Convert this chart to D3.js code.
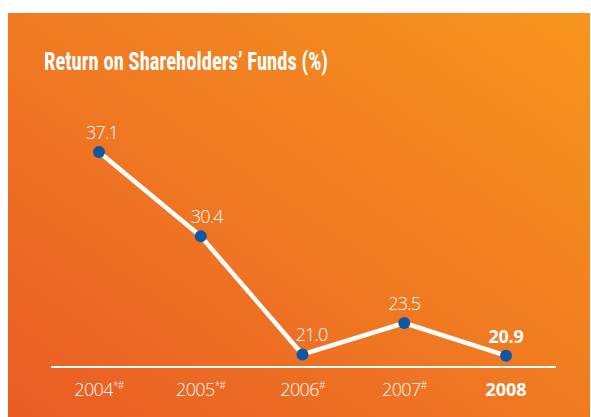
<!DOCTYPE html>
<html><head><meta charset="utf-8">
<script src="https://cdn.jsdelivr.net/npm/d3@7"></script>
<style>html,body{margin:0;padding:0;background:#fff;}svg{display:block;}</style>
</head><body>
<script>
const years = ["2004", "2005", "2006", "2007", "2008"];
const marks = ["*#", "*#", "#", "#", ""];
const values = [37.1, 30.4, 21.0, 23.5, 20.9];
const valueLabels = ["37.1", "30.4", "21.0", "23.5", "20.9"];
const title = "Return on Shareholders\u2019 Funds (%)";

const W = 591, H = 417;
const labelDx = [3, 6, 9, 0, 0];
const svg = d3.select("body").append("svg").attr("width", W).attr("height", H);
const defs = svg.append("defs");
const grad = defs.append("linearGradient").attr("id", "bg")
  .attr("x1", "0%").attr("y1", "100%").attr("x2", "100%").attr("y2", "0%");
grad.append("stop").attr("offset", "0%").attr("stop-color", "#E95C25");
grad.append("stop").attr("offset", "50%").attr("stop-color", "#F07A22");
grad.append("stop").attr("offset", "100%").attr("stop-color", "#F7951D");
svg.append("rect").attr("x", 8).attr("y", 13).attr("width", 582).attr("height", 404).attr("fill", "url(#bg)");

const cond = "'Liberation Sans Narrow','Roboto Condensed','Open Sans',sans-serif";
svg.append("text").attr("x", 44).attr("y", 70).attr("fill", "#fff")
  .attr("font-family", cond).attr("font-weight", 700).attr("font-size", 26.5)
  .attr("textLength", 284).attr("lengthAdjust", "spacingAndGlyphs").text(title);

const x = d3.scalePoint().domain(years).range([99, 506]);
const y = d3.scaleLinear().domain([20, 37.1]).range([367, 152]);

svg.append("line").attr("x1", 51).attr("x2", 556).attr("y1", 367).attr("y2", 367)
  .attr("stroke", "#fff").attr("stroke-width", 2.2);

const axis = d3.axisBottom(x).tickSize(0).tickFormat("");
const ag = svg.append("g").attr("transform", "translate(0,367)").call(axis);
ag.select(".domain").remove();

const lab = svg.append("g");
years.forEach((yr, i) => {
  const t = lab.append("text").attr("x", x(yr)).attr("y", 396).attr("text-anchor", "middle")
    .attr("fill", "#fff").attr("font-family", "'Open Sans',sans-serif")
    .attr("font-size", 18).attr("font-weight", i === 4 ? 700 : 300)
    .attr("letter-spacing", i === 4 ? 0 : -0.6);
  t.append("tspan").text(yr);
  if (marks[i]) t.append("tspan").attr("font-size", 10).attr("dy", -7).text(marks[i]);
});

const line = d3.line().x((d, i) => x(years[i])).y(d => y(d));
svg.append("path").datum(values).attr("d", line).attr("fill", "none")
  .attr("stroke", "#fff").attr("stroke-width", 4.5).attr("stroke-linejoin", "round");

svg.selectAll("circle.pt").data(values).enter().append("circle").attr("class", "pt")
  .attr("cx", (d, i) => x(years[i])).attr("cy", d => y(d)).attr("r", 6).attr("fill", "#0B58A4");

svg.selectAll("text.val").data(values).enter().append("text").attr("class", "val")
  .attr("x", (d, i) => x(years[i]) + labelDx[i]).attr("y", d => y(d) - 13)
  .attr("text-anchor", "middle").attr("fill", "#fff")
  .attr("font-family", "'Open Sans',sans-serif").attr("font-size", 18)
  .attr("font-weight", (d, i) => i === 4 ? 700 : 300)
  .attr("letter-spacing", (d, i) => i === 4 ? -0.3 : -0.8)
  .text((d, i) => valueLabels[i]);
</script>
</body></html>
